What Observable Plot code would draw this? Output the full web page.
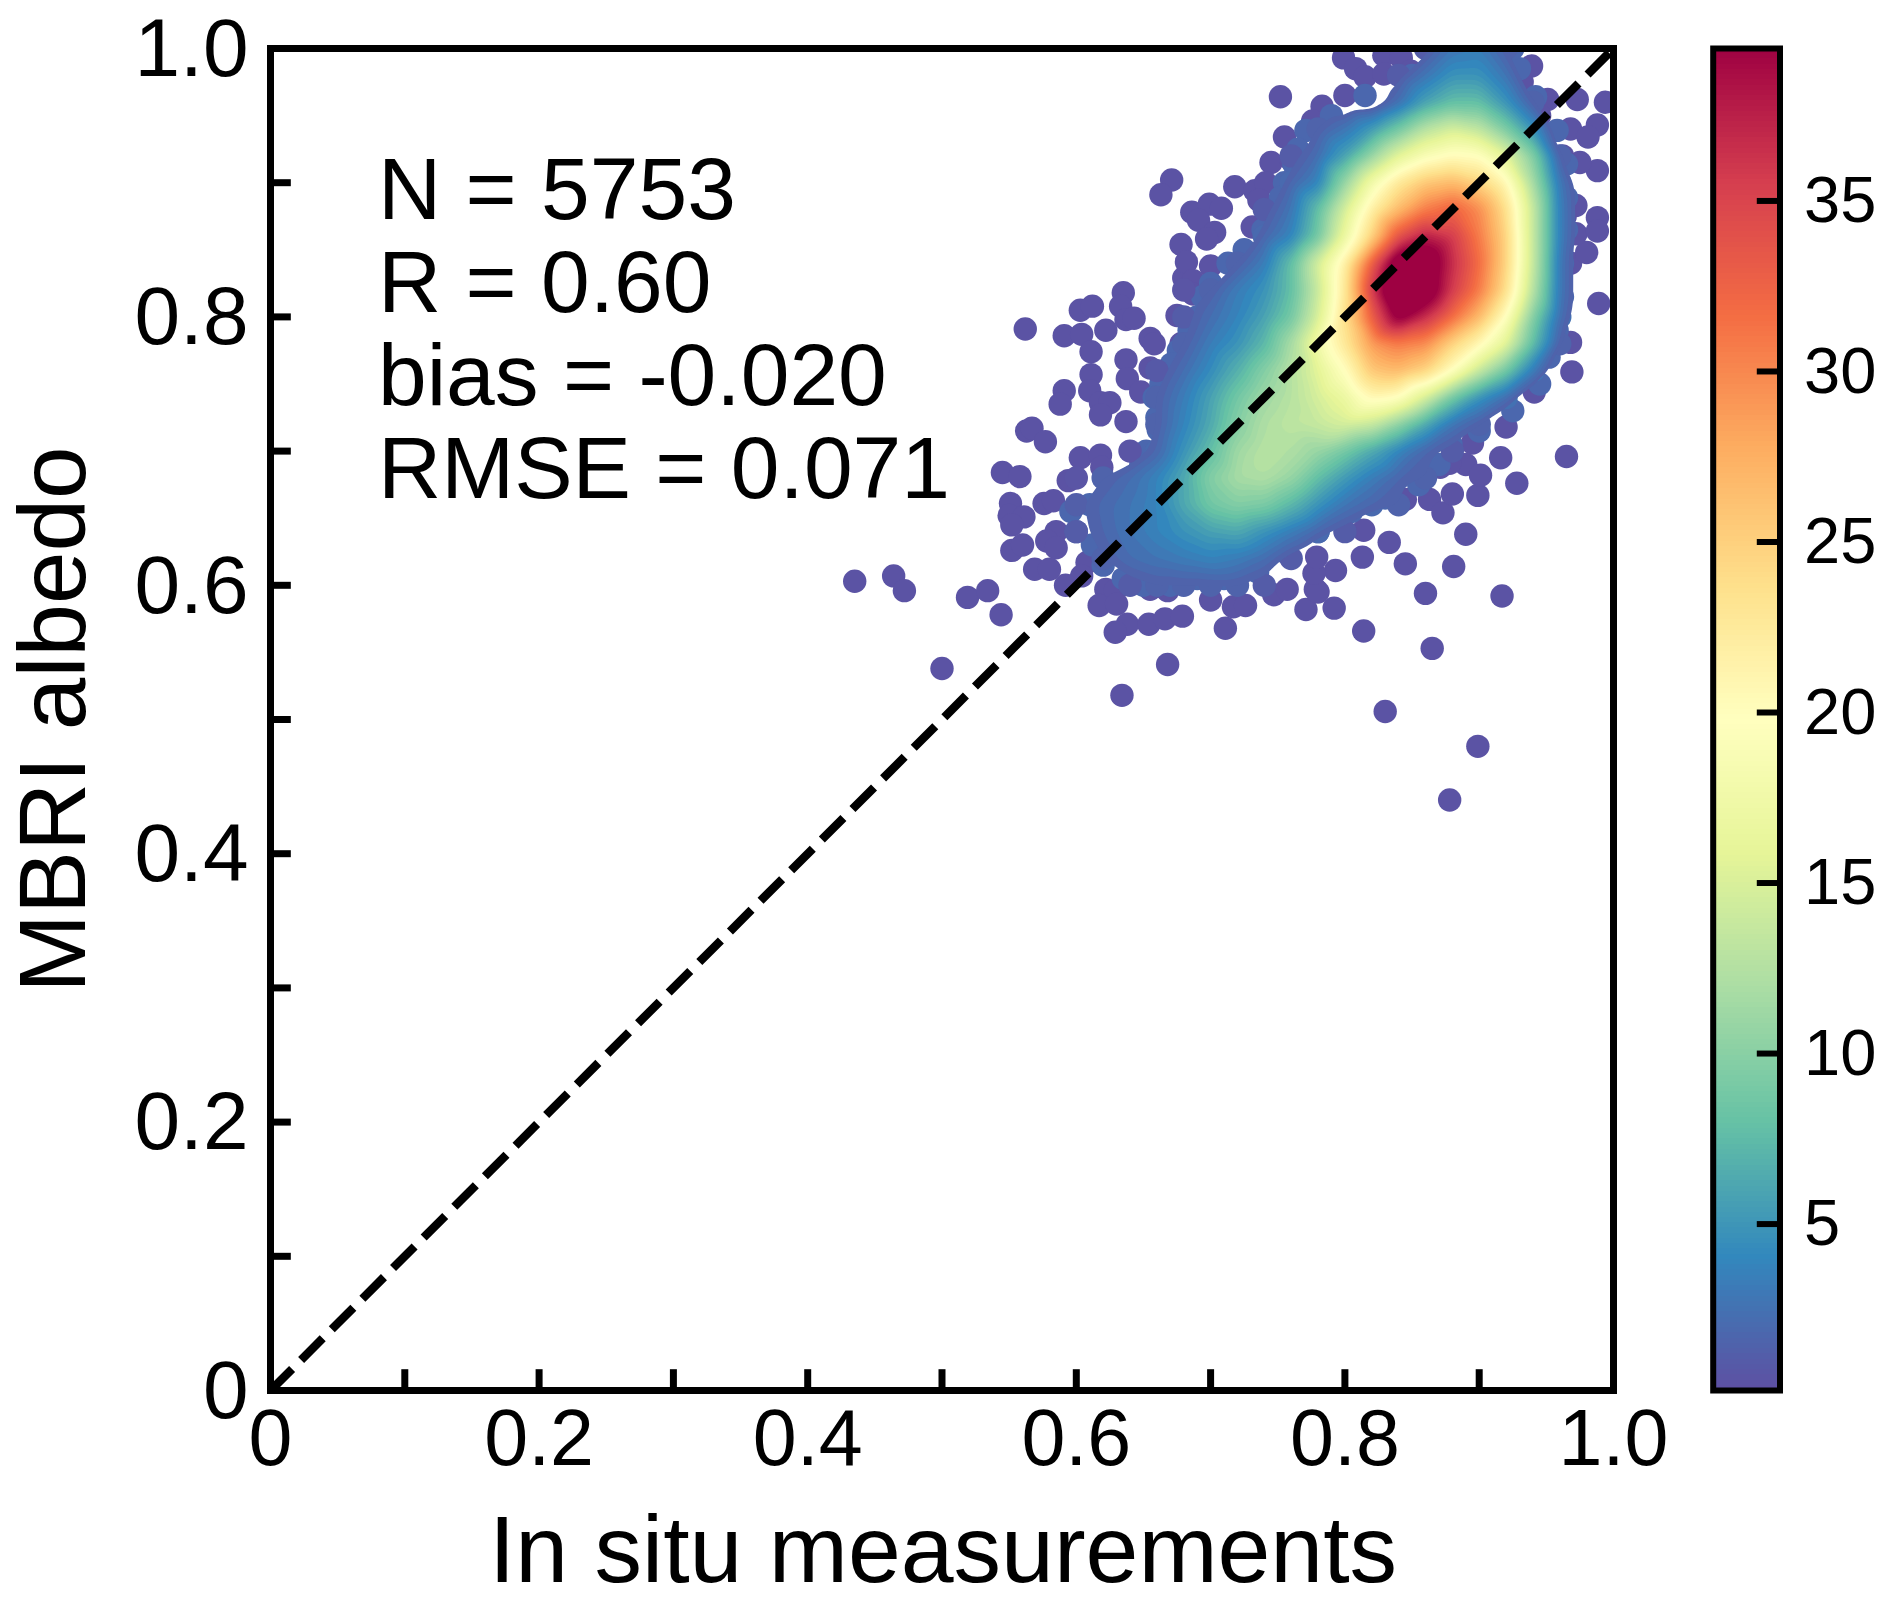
<!DOCTYPE html>
<html>
<head>
<meta charset="utf-8">
<script src="https://cdn.jsdelivr.net/npm/d3@7"></script>
<script src="https://cdn.jsdelivr.net/npm/@observablehq/plot@0.6"></script>
<style>
html,body{margin:0;padding:0;background:#fff;}
#root{position:relative;width:1892px;height:1604px;overflow:hidden;}
#root svg{position:absolute;left:0;top:0;}
</style>
</head>
<body>
<div id="root"></div>
<script>
const xLabel = "In situ measurements";
const yLabel = "MBRI albedo";
const statLines = ["N = 5753","R = 0.60","bias = -0.020","RMSE = 0.071"];
const statY = [0.873,0.804,0.7345,0.665];
const labelTicks = [0,0.2,0.4,0.6,0.8,1.0];
const allTicks = [0.1,0.2,0.3,0.4,0.5,0.6,0.7,0.8,0.9];
const barTicks = [5,10,15,20,25,30,35];
const densityDomain = [0.12,39.47];
const spectralR = ["#5e4fa2","#3288bd","#66c2a5","#abdda4","#e6f598","#ffffbf","#fee08b","#fdae61","#f46d43","#d53e4f","#9e0142"];

// Scattered outlying measurements [in situ, MBRI]
const sparsePoints = [
[.562,.791],[.603,.805],[.612,.808],[.635,.818],[.633,.808],[.637,.798],[.643,.799],[.591,.786],[.604,.787],[.622,.790],
[.611,.774],[.675,.801],[.655,.784],[.658,.780],[.678,.780],[.637,.768],[.655,.762],[.638,.754],[.648,.744],[.611,.757],
[.610,.745],[.591,.745],[.588,.735],[.618,.736],[.625,.736],[.618,.727],[.637,.722],[.686,.819],[.680,.829],[.563,.715],
[.567,.717],[.577,.707],[.603,.695],[.618,.697],[.619,.688],[.545,.684],[.558,.681],[.594,.678],[.551,.661],[.576,.661],
[.583,.663],[.550,.652],[.561,.651],[.552,.645],[.585,.640],[.578,.633],[.585,.628],[.552,.626],[.560,.630],[.569,.612],
[.580,.612],[.608,.617],[.604,.607],[.592,.600],[.435,.603],[.464,.607],[.472,.596],[.519,.591],[.534,.596],[.544,.578],
[.622,.597],[.629,.596],[.617,.585],[.630,.586],[.638,.571],[.629,.565],[.654,.571],[.666,.575],[.679,.577],[.655,.597],
[.668,.596],[.700,.589],[.717,.584],[.726,.585],[.711,.568],[.747,.593],[.757,.597],[.771,.582],[.792,.583],[.778,.597],
[.500,.538],[.668,.541],[.634,.518],
[.965,.696],[.916,.695],[.928,.676],[.899,.667],[.890,.638],[.833,.632],[.813,.621],[.845,.616],[.881,.614],[.814,.641],
[.860,.594],[.917,.592],[.793,.611],[.780,.595],[.814,.566],[.865,.553],[.830,.506],[.899,.480],[.878,.440],[.845,.664],
[.863,.664],[.873,.654],[.880,.668],[.920,.718],[.895,.706],[.890,.690],[.901,.682],[.871,.688],[.777,.609],[.779,.621],
[.752,.964],[.755,.934],[.799,.993],[.829,.995],[.842,.993],[.808,.985],[.815,.979],[.829,.981],[.849,.983],[.875,.995],
[.939,.987],[.800,.965],[.783,.957],[.776,.946],[.745,.915],[.760,.917],[.718,.897],[.733,.894],[.741,.900],[.671,.902],
[.663,.891],[.736,.887],[.686,.878],[.699,.884],[.708,.881],[.691,.872],[.703,.863],[.697,.858],[.678,.854],[.682,.841],
[.731,.867],[.700,.838],[.687,.827],[.687,.817],[.973,.962],[.994,.960],[.951,.962],[.968,.940],[.988,.943],[.981,.934],
[.988,.909],[.975,.915],[.988,.874],[.972,.883],[.968,.840],[.980,.848],[.972,.862],[.988,.864],[.989,.810],[.968,.781],
[.969,.759],[.941,.744],[.933,.764],[.878,.691],
[.958,.905],[.960,.885],[.958,.860],[.960,.830],[.955,.800],[.964,.875],[.962,.920],[.945,.950],[.932,.975],[.950,.775]
];
const sparseDensity = 0.4;

// Measurements along the rim of the dense cloud [in situ, MBRI]
const rimPoints = [
[.85,.98],[.815,.965],[.79,.95],[.771,.939],[.765,.925],[.762,.914],[.755,.90],[.752,.889],[.745,.875],[.739,.865],
[.725,.85],[.713,.84],[.70,.825],[.694,.815],[.69,.80],[.684,.79],[.676,.775],[.671,.765],[.663,.75],[.658,.74],
[.66,.725],[.661,.716],[.652,.70],[.648,.69],[.63,.675],[.61,.66],[.596,.655],[.60,.64],[.612,.63],[.62,.615],
[.635,.605],[.65,.60],[.67,.60],[.69,.605],[.71,.605],[.735,.61],[.755,.625],[.78,.64],[.805,.655],[.83,.665],
[.855,.675],[.87,.69],[.879,.705],[.90,.715],[.925,.73],[.945,.75],[.952,.77],[.958,.79],[.962,.815],[.962,.84],
[.965,.865],[.965,.889],[.965,.914],[.958,.939],[.942,.964],[.93,.985],[.925,1.0]
];
const rimDensity = 1.8;

// Point density, on a regular lattice
const gridX = [.58,.60,.62,.64,.66,.68,.70,.72,.74,.76,.78,.80,.82,.84,.86,.88,.90,.92,.94,.96,.98,1.0];
const gridY = [1.02,1.00,.98,.96,.94,.92,.90,.88,.86,.84,.82,.80,.78,.76,.74,.72,.70,.68,.66,.64,.62,.60,.58];
const gridDensity = [
[0,0,0,0,0,0,0,0,0,0,0,0,0,0,0,2,2,0,0,0,0,0],
[0,0,0,0,0,0,0,0,0,0,0,0,0,0,1,3,3.5,1.5,0,0,0,0],
[0,0,0,0,0,0,0,0,0,0,0,0,0,1,3,5,5,3,0,0,0,0],
[0,0,0,0,0,0,0,0,0,0,0,0,0,2.5,6,8,8,5,1.5,0,0,0],
[0,0,0,0,0,0,0,0,0,0,1.5,3,5.5,9,13,15,13.5,9.5,5,0,0,0],
[0,0,0,0,0,0,0,0,0,1,2.5,6,11,16,19,20.5,20,16,10,1.5,0,0],
[0,0,0,0,0,0,0,0,0,2,4,11,18,23,26,27,25,21,12,3,0,0],
[0,0,0,0,0,0,0,0,1,3,8,15,22,27,31,33,30,24,14,3.5,0,0],
[0,0,0,0,0,0,0,0,2,4,9,17,25,34,38,36,31,25,14,3.5,0,0],
[0,0,0,0,0,0,0,1.5,3.5,8,15,22,33,43,43,37,32,25,14,3,0,0],
[0,0,0,0,0,.5,1.5,3.5,5,8,14,23,36,46,43,36,31,24,13,3,0,0],
[0,0,0,0,0,1,2.5,4,6,9,15,24,33,41,37,32,27,20,10,2.5,0,0],
[0,0,0,0,0,1.5,3.5,5,7.5,12,18,23,29,31,30,25,21,16,8,1.5,0,0],
[0,0,0,0,.8,2.5,4.5,7,10,13,16,20,26,27,25,20,14,9,3.5,0,0,0],
[0,0,0,0,1.5,3.5,6,9,11.5,13,15,17,21,20,15,9,5,2.5,0,0,0,0],
[0,0,0,0,1.5,4,6.5,10,12.5,13.5,14,15,14,10.5,6.5,3,1.5,0,0,0,0,0],
[0,0,0,.5,2,5,8,11.5,13,12.5,11,9,6.5,4,2,1,0,0,0,0,0,0],
[0,.5,1.5,2.5,4,6.5,10,12,12.5,11,8,5.5,3.5,2,1.5,0,0,0,0,0,0,0],
[0,1.2,2.2,3,4,6.5,9,10,9.5,7.5,5,3,2,1.5,0,0,0,0,0,0,0,0],
[0,1,2,3,4,5,6,6.5,5,3.5,2,1,0,0,0,0,0,0,0,0,0,0],
[0,0,1.5,2.5,3,3.5,4,3.5,2.5,1,0,0,0,0,0,0,0,0,0,0,0,0],
[0,0,0,1,1.5,1.5,1.5,1.5,1,0,0,0,0,0,0,0,0,0,0,0,0,0],
[0,0,0,0,0,0,0,0,0,0,0,0,0,0,0,0,0,0,0,0,0,0]
];

const latticeTable = gridY.flatMap((y,j)=>gridX.map((x,i)=>({x,y,v:gridDensity[j][i]})));
const edgeTable = latticeTable.filter(d=>d.v>0 && d.v<=3.5);
const sparseTable = sparsePoints.map(([x,y])=>({x,y,v:sparseDensity}));
const rimTable = rimPoints.map(([x,y])=>({x,y,v:rimDensity}));
const diagonal = [{x:0,y:0},{x:1,y:1}];
const levels = d3.range(1.5,39.6,0.5);
const colorStops = spectralR.map((_,i)=>densityDomain[0]+(densityDomain[1]-densityDomain[0])*i/(spectralR.length-1));
const colorScale = {type:"linear",domain:colorStops,range:spectralR,interpolate:"rgb"};
const font = "'Liberation Sans', Arial, sans-serif";

const main = Plot.plot({
  width:1892,height:1604,
  marginLeft:270,marginRight:279,marginTop:48,marginBottom:214,
  style:{fontFamily:font,color:"#000",background:"transparent"},
  x:{domain:[0,1],axis:null},
  y:{domain:[0,1],axis:null},
  color:colorScale,
  marks:[
    Plot.dot(sparseTable,{x:"x",y:"y",r:11.7,fill:"v",clip:"frame"}),
    Plot.dot(rimTable,{x:"x",y:"y",r:11.7,fill:"v",clip:"frame"}),
    Plot.dot(edgeTable,{x:"x",y:"y",r:11.7,fill:"v",clip:"frame",sort:"v"}),
    Plot.contour(latticeTable,{x:"x",y:"y",fill:"v",thresholds:levels,interpolate:"barycentric",pixelSize:2,blur:2,clip:"frame"}),
    Plot.line(diagonal,{x:"x",y:"y",stroke:"#000",strokeWidth:8.5,strokeDasharray:"30.5,12.8",strokeLinecap:"butt"}),
    Plot.ruleX(allTicks,{x:d=>d,y1:0,y2:0.0155,stroke:"#000",strokeWidth:7}),
    Plot.ruleY(allTicks,{y:d=>d,x1:0,x2:0.0155,stroke:"#000",strokeWidth:7}),
    Plot.frame({stroke:"#000",strokeWidth:7}),
    Plot.axisX({ticks:labelTicks,tickSize:0,tickPadding:18,fontSize:79,tickFormat:d=>d===0?"0":d.toFixed(1),label:null,stroke:"none"}),
    Plot.axisY({ticks:labelTicks,tickSize:0,tickPadding:22,fontSize:82,dy:1,tickFormat:d=>d===0?"0":d.toFixed(1),label:null,stroke:"none"}),
    Plot.text(statLines,{x:0.080,y:(d,i)=>statY[i],text:d=>d,textAnchor:"start",lineAnchor:"bottom",fontSize:87.6,fill:"#000"}),
    Plot.text([xLabel],{text:d=>d,frameAnchor:"bottom",lineAnchor:"bottom",dy:191,dx:1,fontSize:95,fill:"#000"}),
    Plot.text([yLabel],{text:d=>d,frameAnchor:"left",textAnchor:"middle",lineAnchor:"bottom",rotate:-90,dx:-186,fontSize:94.5,fill:"#000"})
  ]
});

const barSteps = d3.range(256).map(i=>{
  const [a,b]=densityDomain;
  return {y1:a+(b-a)*i/256,y2:a+(b-a)*(i+1)/256,v:a+(b-a)*(i+.5)/256};
});
const bar = Plot.plot({
  width:1892,height:1604,
  marginLeft:1712.7,marginRight:112.5,marginTop:48,marginBottom:214,
  style:{fontFamily:font,color:"#000",background:"transparent"},
  x:{domain:[0,1],axis:null},
  y:{domain:densityDomain,axis:null},
  color:colorScale,
  marks:[
    Plot.rect(barSteps,{x1:0,x2:1,y1:"y1",y2:"y2",fill:"v",shapeRendering:"crispEdges"}),
    Plot.ruleY(barTicks,{y:d=>d,x1:0.66,x2:1,stroke:"#000",strokeWidth:6}),
    Plot.frame({stroke:"#000",strokeWidth:6}),
    Plot.axisY({anchor:"right",ticks:barTicks,tickSize:0,tickPadding:24,dy:0.5,fontSize:65,label:null,stroke:"none"})
  ]
});
document.getElementById("root").append(main,bar);
</script>
</body>
</html>
